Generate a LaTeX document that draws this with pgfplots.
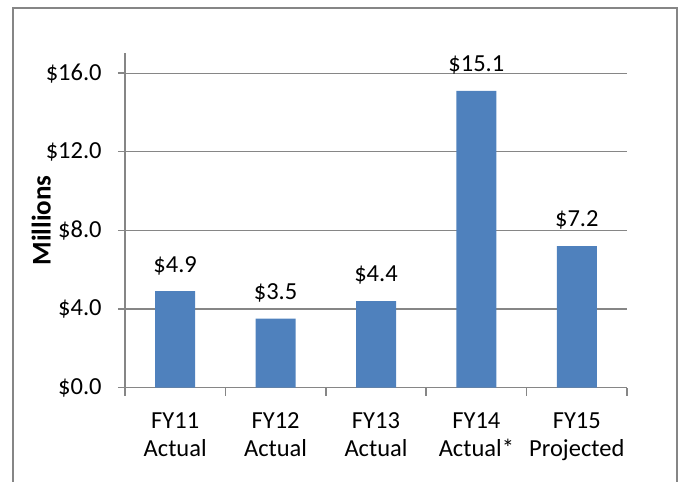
\documentclass[border=0pt]{standalone}
\usepackage{pgfplots}
\pgfplotsset{compat=1.18}
\usepackage{fontspec}
\setmainfont{Carlito}
\definecolor{barblue}{RGB}{79,129,189}
\definecolor{axgray}{RGB}{134,134,134}
\begin{document}
\fontsize{24.5bp}{28bp}\selectfont
\begin{tikzpicture}
\useasboundingbox (0,0) rectangle (683bp,482bp);
\draw[axgray, line width=1.5bp] (13bp,0) -- (13bp,474bp) -- (677bp,474bp) -- (677bp,0);
\begin{axis}[
  at={(125bp,94.5bp)}, anchor=south west,
  scale only axis, width=502bp, height=334bp,
  xmin=0.5, xmax=5.5, ymin=0, ymax=17,
  axis x line*=bottom, axis y line*=left,
  axis line style={axgray, line width=1.5bp},
  every tick/.style={axgray, line width=1.5bp},
  tick align=outside,
  ytick={0,4,8,12,16},
  yticklabels={\$0.0,\$4.0,\$8.0,\$12.0,\$16.0},
  major tick length=7bp,
  xtick={1,2,3,4,5},
  xticklabels={{FY11\\Actual},{FY12\\Actual},{FY13\\Actual},{FY14\\Actual*},{FY15\\Projected}},
  xticklabel style={align=center, font=\fontsize{24.5bp}{28bp}\selectfont, yshift=-10bp},
  major x tick style={draw=none},
  minor xtick={0.5,1.5,2.5,3.5,4.5,5.5},
  minor tick length=8bp,
  minor x tick style={draw=axgray, line width=1.5bp},
  ymajorgrids, grid style={axgray, line width=1.2bp},
  yticklabel style={xshift=-8bp},
  ylabel={\textbf{Millions}},
  ylabel style={at={(axis description cs:-0.167,0.5)}, anchor=center, font=\fontsize{27bp}{30bp}\selectfont},
  /pgf/number format/assume math mode=true,
  nodes near coords={\$\pgfmathprintnumber[fixed,fixed zerofill,precision=1]{\pgfplotspointmeta}},
  nodes near coords style={anchor=south, yshift=8bp, text=black},
  tick label style={text=black},
]
\addplot[ybar, bar width=40bp, fill=barblue, draw=none] coordinates {(1,4.9) (2,3.5) (3,4.4) (4,15.1) (5,7.2)};
\end{axis}
\end{tikzpicture}
\end{document}
